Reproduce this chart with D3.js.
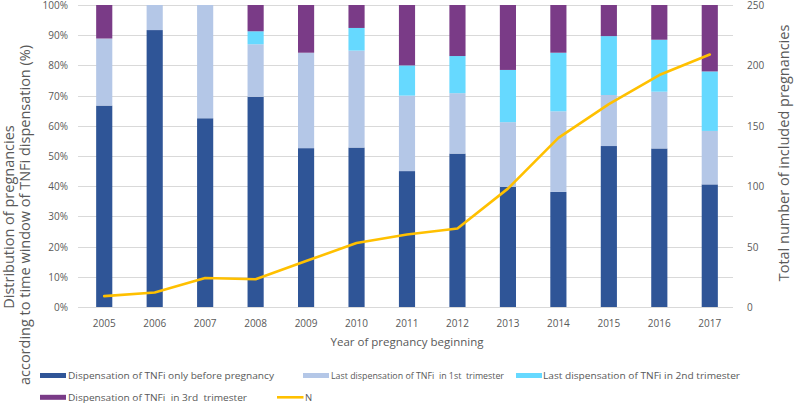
<!DOCTYPE html>
<html><head><meta charset="utf-8">
<script src="https://cdn.jsdelivr.net/npm/d3@7"></script>
<style>
html,body{margin:0;padding:0;background:#fff;}
svg{display:block;font-family:"Open Sans",sans-serif;}
text{white-space:pre;}
</style></head>
<body>
<svg id="chart" width="794" height="404"></svg>
<script>
const years = ["2005","2006","2007","2008","2009","2010","2011","2012","2013","2014","2015","2016","2017"];
const beforePreg = [66.7, 91.7, 62.5, 69.6, 52.6, 52.8, 45.0, 50.8, 39.8, 38.1, 53.3, 52.5, 40.6];
const firstTri   = [22.2, 8.3, 37.5, 17.4, 31.6, 32.1, 25.0, 20.0, 21.4, 26.7, 16.9, 18.8, 17.7];
const secondTri  = [0, 0, 0, 4.3, 0, 7.5, 10.0, 12.3, 17.3, 19.4, 19.5, 17.2, 19.7];
const thirdTri   = [11.1, 0, 0, 8.7, 15.8, 7.6, 20.0, 16.9, 21.5, 15.8, 10.3, 11.5, 22.0];
const totalN     = [9, 12, 24, 23, 38, 53, 60, 65, 98, 140, 168, 192, 209];
const seriesNames = ["Dispensation of TNFi only before pregnancy", "Last dispensation of TNFi  in 1st  trimester",
  "Last dispensation of TNFi in 2nd trimester", "Dispensation of TNFi  in 3rd  trimester"];
const lineName = "N";
const leftTicks = [0,10,20,30,40,50,60,70,80,90,100];
const rightTicks = [0,50,100,150,200,250];

const colors = ["#2F5597", "#B4C7E7", "#66D9FF", "#7A3B87"];
const lineColor = "#FFC000";
const textColor = "#595959";

const svg = d3.select("#chart");
const m = {left:79, right:735, top:5, bottom:307};

const x = d3.scaleBand().domain(years).range([m.left, m.right]).paddingInner(0.68).paddingOuter(0.34);
const y = d3.scaleLinear().domain([0,100]).range([m.bottom, m.top]);
const y2 = d3.scaleLinear().domain([0,250]).range([m.bottom, m.top]);

// gridlines
svg.append("g").selectAll("line").data(leftTicks).join("line")
  .attr("x1", m.left-1).attr("x2", m.right-2)
  .attr("y1", d=>Math.round(y(d))+0.5).attr("y2", d=>Math.round(y(d))+0.5)
  .attr("stroke", "#D9D9D9").attr("stroke-width", 1);

// stacked bars
const table = years.map((yr,i)=>({year:yr, s0:beforePreg[i], s1:firstTri[i], s2:secondTri[i], s3:thirdTri[i]}));
const stack = d3.stack().keys(["s0","s1","s2","s3"])(table);
svg.append("g").selectAll("g").data(stack).join("g")
  .attr("fill", (d,i)=>colors[i])
  .selectAll("rect").data(d=>d).join("rect")
  .attr("x", d=>x(d.data.year)).attr("width", x.bandwidth())
  .attr("y", d=>y(d[1])).attr("height", d=>Math.max(0, y(d[0])-y(d[1])));

// N line
const line = d3.line().x((d,i)=>x(years[i])+x.bandwidth()/2).y(d=>y2(d));
svg.append("path").datum(totalN).attr("d", line)
  .attr("fill","none").attr("stroke", lineColor).attr("stroke-width", 2.6)
  .attr("stroke-linejoin","round").attr("stroke-linecap","round");

// left axis
const axL = d3.axisLeft(y).tickValues(leftTicks).tickFormat(d=>d+"%").tickSize(0).tickPadding(0);
const gL = svg.append("g").attr("transform", `translate(68,0)`).call(axL);
gL.select(".domain").remove();
gL.selectAll("text").attr("fill", textColor).style("font-size","10px").style("font-family","'Open Sans'").attr("dy","0.34em");

// right axis
const axR = d3.axisRight(y2).tickValues(rightTicks).tickSize(0).tickPadding(0);
const gR = svg.append("g").attr("transform", `translate(747,0)`).call(axR);
gR.select(".domain").remove();
gR.selectAll("text").attr("fill", textColor).style("font-size","10px").style("font-family","'Open Sans'").attr("dy","0.34em");

// bottom axis
const axB = d3.axisBottom(x).tickSize(0).tickPadding(0);
const gB = svg.append("g").attr("transform", `translate(0,${m.bottom})`).call(axB);
gB.select(".domain").remove();
gB.selectAll("text").attr("fill", textColor).style("font-size","10px").style("font-family","'Open Sans'").attr("y", 19.5).attr("dy", 0);

// axis titles
svg.append("text").attr("x", 407).attr("y", 345.5).attr("text-anchor","middle")
  .attr("fill", textColor).style("font-size","11.5px").text("Year of pregnancy beginning");
svg.append("text").attr("transform","translate(14,217) rotate(-90)").attr("text-anchor","middle")
  .attr("fill", textColor).style("font-size","14.5px").text("Distribution of pregnancies");
svg.append("text").attr("transform","translate(30,215) rotate(-90)").attr("text-anchor","middle")
  .attr("fill", textColor).style("font-size","14.5px").text("according to time window of TNFi dispensation (%)");
svg.append("text").attr("transform","translate(789,153) rotate(-90)").attr("text-anchor","middle")
  .attr("fill", textColor).style("font-size","14.5px").text("Total number of included pregnancies");

// legend
const legendPos = [
  {sx:40, tx:68, cy:375.5, w:206},
  {sx:303, tx:331, cy:375.5, w:173},
  {sx:516, tx:543, cy:375.5, w:197},
  {sx:40, tx:68, cy:397.3, w:179}
];
const lg = svg.append("g");
seriesNames.forEach((name,i)=>{
  const p = legendPos[i];
  lg.append("rect").attr("x", p.sx).attr("y", p.cy-2.5).attr("width", 26).attr("height", 5).attr("fill", colors[i]);
  lg.append("text").attr("x", p.tx).attr("y", p.cy+3.5).attr("fill", textColor).style("font-size","9.5px")
    .attr("textLength", p.w).attr("lengthAdjust","spacingAndGlyphs").text(name);
});
lg.append("line").attr("x1", 277).attr("x2", 303.5).attr("y1", 397.3).attr("y2", 397.3)
  .attr("stroke", lineColor).attr("stroke-width", 2.6);
lg.append("text").attr("x", 305).attr("y", 400.8).attr("fill", textColor).style("font-size","9.5px").text(lineName);
</script>
</body></html>
